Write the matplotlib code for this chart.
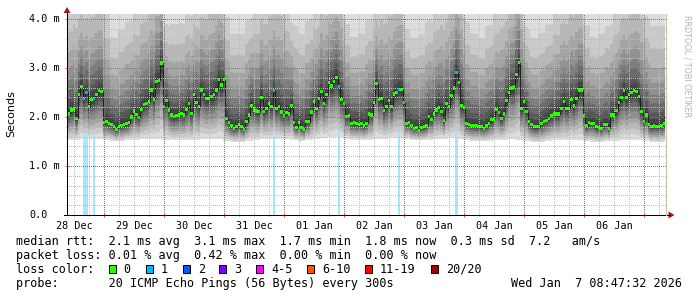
from __future__ import annotations

import matplotlib

matplotlib.use("Agg")
import matplotlib.pyplot as plt
import numpy as np
from matplotlib import transforms
from matplotlib.lines import Line2D
from matplotlib.patches import Polygon, Rectangle

WIDTH_PX, HEIGHT_PX, DPI = 697, 297, 100
MONO = "DejaVu Sans Mono"

# Hours counted from 28 Dec 00:00; one median value per hour, first one at 09:00.
FIRST_HOUR = 9
median_dec28 = [2.05, 2.06, 2.14, 2.16, 1.97, 2.45, 2.62, 2.38, 2.50, 2.21, 2.36, 2.38,
                2.45, 2.54, 2.52]
median_dec29 = [1.88, 1.90, 1.87, 1.84, 1.80, 1.75, 1.80, 1.82, 1.84, 1.86, 1.88, 2.00,
                2.12, 2.05, 1.99, 2.15, 2.25, 2.28, 2.31, 2.55, 2.36, 2.73, 2.75, 3.10]
median_dec30 = [2.22, 2.33, 2.14, 2.04, 2.01, 2.03, 2.04, 2.07, 2.04, 2.15, 2.28, 2.07,
                2.46, 2.30, 2.22, 2.55, 2.45, 2.38, 2.38, 2.42, 2.45, 2.55, 2.77, 2.65]
median_dec31 = [2.76, 1.97, 1.88, 1.82, 1.77, 1.80, 1.84, 1.80, 1.75, 1.90, 2.04, 2.24,
                2.14, 2.12, 2.11, 2.39, 2.11, 2.18, 2.27, 2.21, 2.54, 2.18, 2.22, 2.10]
median_jan01 = [2.02, 2.09, 2.06, 2.24, 1.88, 1.79, 1.88, 1.79, 1.75, 1.90, 1.90, 2.10,
                2.31, 2.18, 2.38, 2.52, 2.28, 2.45, 2.70, 2.63, 2.72, 2.81, 2.62, 2.36]
median_jan02 = [2.27, 2.01, 2.02, 1.87, 1.88, 1.86, 1.84, 1.87, 1.82, 1.87, 2.06, 2.04,
                2.29, 2.69, 2.35, 2.38, 2.13, 2.22, 2.33, 2.21, 2.47, 2.50, 2.56, 2.56]
median_jan03 = [2.29, 1.87, 1.88, 1.82, 1.77, 1.79, 1.73, 1.79, 1.80, 1.82, 2.01, 1.95,
                2.06, 2.14, 2.20, 2.11, 1.93, 2.27, 2.21, 2.43, 2.59, 2.90, 2.71, 2.24]
median_jan04 = [2.20, 1.87, 1.84, 1.83, 1.82, 1.82, 1.81, 1.80, 1.77, 1.82, 1.87, 1.94,
                1.95, 2.16, 2.09, 1.97, 2.06, 2.33, 2.50, 2.59, 2.61, 2.86, 3.11, 2.18]
median_jan05 = [2.31, 2.11, 1.90, 1.84, 1.80, 1.80, 1.80, 1.86, 1.90, 1.93, 1.97, 2.02,
                2.06, 2.06, 2.06, 2.18, 2.31, 2.18, 2.18, 2.35, 2.24, 2.38, 2.55, 2.55]
median_jan06 = [2.02, 1.82, 1.88, 1.87, 1.86, 1.80, 1.79, 1.77, 1.84, 1.84, 1.77, 2.04,
                2.04, 2.13, 2.29, 2.40, 2.54, 2.40, 2.45, 2.50, 2.54, 2.52, 2.41, 2.11]
median_jan07 = [1.90, 2.04, 1.84, 1.80, 1.82, 1.81, 1.80, 1.82, 1.86]

# Hours with lost pings (out of 20).
loss_hours = [16, 17, 20, 92, 118, 142, 165]
loss_counts = [1, 1, 1, 1, 1, 1, 1]

# Smoke envelope (fastest / slowest ping), one value per 3 hour block from 28 Dec 09:00.
smoke_min_ms = [
    1.52, 1.53, 1.55, 1.55, 1.55,
    1.52, 1.50, 1.50, 1.52, 1.54, 1.55, 1.56, 1.56,
    1.54, 1.52, 1.52, 1.52, 1.54, 1.55, 1.55, 1.56,
    1.50, 1.48, 1.48, 1.50, 1.53, 1.55, 1.55, 1.56,
    1.55, 1.52, 1.50, 1.52, 1.55, 1.57, 1.60, 1.60,
    1.55, 1.53, 1.52, 1.53, 1.55, 1.56, 1.58, 1.58,
    1.55, 1.52, 1.52, 1.53, 1.55, 1.56, 1.57, 1.56,
    1.53, 1.50, 1.50, 1.50, 1.52, 1.53, 1.55, 1.54,
    1.50, 1.48, 1.48, 1.50, 1.52, 1.52, 1.53, 1.53,
    1.50, 1.48, 1.48, 1.50, 1.50, 1.52, 1.53, 1.52,
    1.50, 1.48, 1.48,
]
smoke_max_ms = [
    4.8, 5.0, 5.0, 5.1, 5.2,
    4.7, 4.1, 4.3, 4.5, 4.7, 5.0, 5.2, 5.6,
    4.3, 4.4, 4.4, 4.6, 4.8, 5.0, 5.2, 5.4,
    4.6, 4.2, 4.2, 4.5, 4.7, 5.0, 5.2, 5.3,
    4.8, 4.4, 4.2, 4.5, 4.8, 5.1, 5.4, 5.5,
    4.4, 4.1, 4.2, 4.5, 4.8, 5.0, 5.2, 5.4,
    4.3, 4.1, 4.2, 4.5, 4.8, 5.0, 5.3, 5.6,
    4.5, 4.2, 4.1, 4.4, 4.7, 5.0, 5.3, 5.7,
    4.3, 4.1, 4.2, 4.4, 4.7, 5.0, 5.2, 5.3,
    4.4, 4.1, 4.2, 4.4, 4.7, 5.0, 5.1, 5.2,
    4.6, 4.4, 4.4,
]

# Where the 20 sorted pings sit between min -> median and median -> max.
LOWER_FRAC = [0.0, 0.12, 0.24, 0.36, 0.47, 0.58, 0.68, 0.78, 0.87, 0.95]
UPPER_FRAC = [0.02, 0.06, 0.11, 0.18, 0.25, 0.34, 0.46, 0.61, 0.79, 1.0]

day_labels = ["28 Dec", "29 Dec", "30 Dec", "31 Dec", "01 Jan", "02 Jan", "03 Jan",
              "04 Jan", "05 Jan", "06 Jan"]
day_label_hours = [12, 36, 60, 84, 108, 132, 156, 180, 204, 228]
y_ticks = [0.0, 1.0, 2.0, 3.0, 4.0]
y_tick_labels = ["0.0", "1.0 m", "2.0 m", "3.0 m", "4.0 m"]

loss_legend_labels = ["0", "1", "2", "3", "4-5", "6-10", "11-19", "20/20"]
loss_legend_colors = ["#26ff00", "#00b8ff", "#0059ff", "#7e00ff", "#ff00ff", "#ff5500",
                      "#ff0000", "#a10000"]
loss_bar_color = "#a6e6ff"

rtt_line = "median rtt:  2.1 ms avg  3.1 ms max  1.7 ms min  1.8 ms now  0.3 ms sd  7.2   am/s"
loss_line = "packet loss: 0.01 % avg  0.42 % max  0.00 % min  0.00 % now"
probe_line = "probe:       20 ICMP Echo Pings (56 Bytes) every 300s"
stamp = "Wed Jan  7 08:47:32 2026"

X_MIN, X_MAX = 9.2, 248.8
Y_MIN, Y_MAX = 0.0, 4.1


def fx(x: float) -> float:
    return x / WIDTH_PX


def fy(y: float) -> float:
    return 1.0 - y / HEIGHT_PX


def loss_color(count: int) -> str:
    if count <= 3:
        return loss_legend_colors[count]
    if count <= 5:
        return loss_legend_colors[4]
    if count <= 10:
        return loss_legend_colors[5]
    if count <= 19:
        return loss_legend_colors[6]
    return loss_legend_colors[7]


def main() -> None:
    median = np.array(
        median_dec28 + median_dec29 + median_dec30 + median_dec31 + median_jan01
        + median_jan02 + median_jan03 + median_jan04 + median_jan05 + median_jan06
        + median_jan07
    )
    hours = np.arange(FIRST_HOUR, FIRST_HOUR + len(median))
    block = (hours - FIRST_HOUR) // 3
    lo = np.array(smoke_min_ms)[block]
    hi = np.array(smoke_max_ms)[block]

    loss = np.zeros(len(hours), dtype=int)
    for h, c in zip(loss_hours, loss_counts):
        loss[h - FIRST_HOUR] = c

    pings = np.empty((20, len(hours)))
    for i in range(10):
        pings[i] = lo + (median - lo) * LOWER_FRAC[i]
        pings[10 + i] = median + (hi - median) * UPPER_FRAC[i]

    fig = plt.figure(figsize=(WIDTH_PX / DPI, HEIGHT_PX / DPI), dpi=DPI, facecolor="white")
    ax = fig.add_axes([fx(67), fy(215), fx(666) - fx(67), fy(14) - fy(215)])
    ax.set_facecolor("none")
    ax.set_xlim(X_MIN, X_MAX)
    ax.set_ylim(Y_MIN, Y_MAX)

    # loss bars sit behind the smoke
    ax.bar(loss_hours, Y_MAX, bottom=0, width=1.0, color=loss_bar_color, lw=0,
           antialiased=False, zorder=1.0)

    # smoke: band k spans ping k .. ping 21-k, inner bands darker
    for k in range(1, 11):
        level = int(190 / 10 * (10 - k)) + 50
        gray = "#{0:02x}{0:02x}{0:02x}".format(level)
        keep = loss < k
        bottom = pings[k - 1][keep]
        top = pings[20 - k][keep]
        ax.bar(hours[keep], top - bottom, bottom=bottom, width=1.0, color=gray, lw=0,
               antialiased=False, zorder=1.2)

    ax.step(hours, median, where="mid", color="#202020", lw=0.72, zorder=1.3)
    marker_colors = [loss_color(c) for c in loss]
    ax.bar(hours, 0.065, bottom=median - 0.0325, width=1.0, color=marker_colors, lw=0,
           antialiased=False, zorder=1.4)

    # dotted grid drawn above the smoke, like rrdtool
    ax.set_axisbelow(False)
    ax.set_xticks(np.arange(24, X_MAX, 24))
    ax.set_xticks(np.arange(12, X_MAX, 6), minor=True)
    ax.set_yticks(y_ticks)
    ax.set_yticks(np.arange(0.2, Y_MAX, 0.2), minor=True)
    ax.grid(which="major", color=(1.0, 0.25, 0.25, 1.0), lw=0.72, ls=(0, (1, 2)),
            antialiased=False)
    ax.grid(which="minor", color=(0.75, 0.75, 0.75, 0.8), lw=0.72, ls=(0, (1, 2)),
            antialiased=False)
    ax.tick_params(which="both", labelleft=False, labelbottom=False)
    ax.tick_params(which="major", length=3, width=0.72, color="#e06060", direction="inout")
    ax.tick_params(which="minor", length=2, width=0.72, color="#a0a0a0", direction="inout")
    for spine in ax.spines.values():
        spine.set_visible(False)

    # axis lines, arrows and right edge
    fig.add_artist(Line2D([fx(67), fx(67)], [fy(215), fy(12)], color="black", lw=0.72))
    fig.add_artist(Line2D([fx(64), fx(670)], [fy(215), fy(215)], color="black", lw=0.72))
    fig.add_artist(Line2D([fx(666), fx(666)], [fy(215), fy(14)], color="#cbc5a6", lw=0.9))
    fig.add_artist(Polygon([(fx(63.5), fy(13)), (fx(70.5), fy(13)), (fx(67), fy(7))],
                           closed=True, color="#9e1b1b", lw=0))
    fig.add_artist(Polygon([(fx(668.5), fy(211.5)), (fx(668.5), fy(218.5)), (fx(674.5), fy(215))],
                           closed=True, color="#9e1b1b", lw=0))

    # tick labels
    ytrans = transforms.blended_transform_factory(fig.transFigure, ax.transData)
    for v, lab in zip(y_ticks, y_tick_labels):
        ax.text(fx(29), v, lab, transform=ytrans, ha="left", va="center",
                fontsize=7.3, family=MONO, color="black")
    xtrans = transforms.blended_transform_factory(ax.transData, fig.transFigure)
    for h, lab in zip(day_label_hours, day_labels):
        ax.text(h, fy(226), lab, transform=xtrans, ha="center", va="center",
                fontsize=7.3, family=MONO, color="black")

    fig.text(fx(11), fy(114), "Seconds", rotation=90, ha="center", va="center",
             fontsize=8, family="DejaVu Sans")
    fig.text(fx(687), fy(66), "RRDTOOL / TOBI OETIKER", rotation=270, ha="center",
             va="center", fontsize=5.8, family="DejaVu Sans", color="#b4b4b4")

    # legend block
    fig.text(fx(16), fy(241.5), rtt_line, ha="left", va="center", fontsize=8.5, family=MONO)
    fig.text(fx(16), fy(255.5), loss_line, ha="left", va="center", fontsize=8.5, family=MONO)
    fig.text(fx(16), fy(269.5), "loss color:", ha="left", va="center", fontsize=8.5, family=MONO)
    square_x = [108.7, 145.7, 182.7, 219.3, 256.3, 307.0, 365.0, 431.0]
    for x, lab, col in zip(square_x, loss_legend_labels, loss_legend_colors):
        fig.add_artist(Rectangle((fx(x), fy(273)), fx(7), 8 / HEIGHT_PX,
                                 facecolor=col, edgecolor="black", lw=0.72))
        fig.text(fx(x + 15), fy(269.5), lab, ha="left", va="center", fontsize=8.5, family=MONO)
    fig.text(fx(16), fy(283.5), probe_line, ha="left", va="center", fontsize=8.5, family=MONO)
    fig.text(fx(682), fy(283.5), stamp, ha="right", va="center", fontsize=8.5, family=MONO)

    fig.savefig("out.png", dpi=DPI, facecolor="white")


if __name__ == "__main__":
    main()
